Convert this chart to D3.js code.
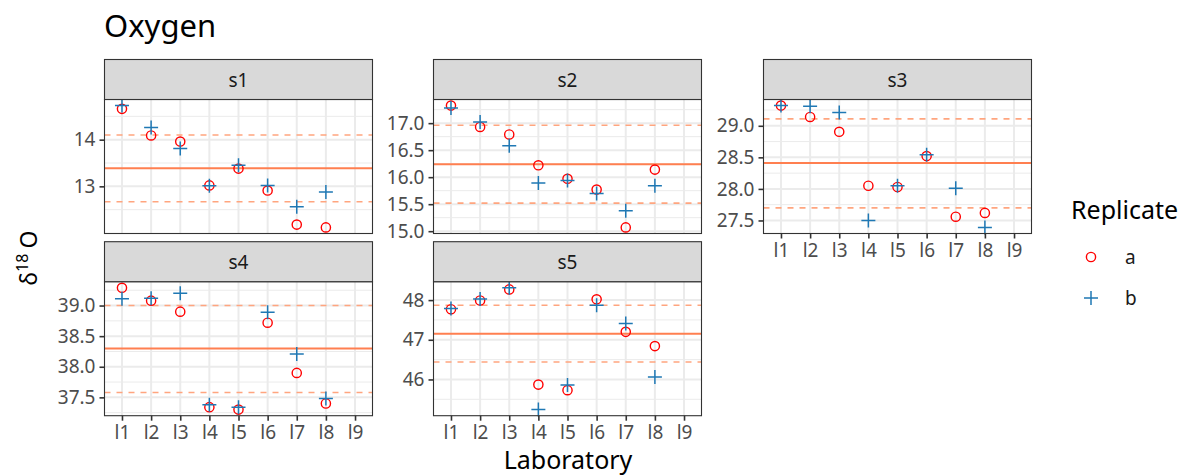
<!DOCTYPE html>
<html>
<head>
<meta charset="utf-8">
<script src="https://cdn.jsdelivr.net/npm/d3@7"></script>
<style>
  body { margin: 0; background: #fff; }
  svg { display: block; font-family: "Noto Sans", "Open Sans", sans-serif; }
</style>
</head>
<body>
<svg id="chart" width="1184" height="476"></svg>
<script>
// ---------------- data ----------------
const labs = ["l1", "l2", "l3", "l4", "l5", "l6", "l7", "l8", "l9"];
const samples = ["s1", "s2", "s3", "s4", "s5"];
const s1_a = [14.66, 14.09, 13.96, 13.02, 13.38, 12.91, 12.18, 12.12];
const s1_b = [14.73, 14.26, 13.81, 13.01, 13.45, 13.02, 12.56, 12.88];
const s2_a = [17.325, 16.93, 16.79, 16.22, 15.97, 15.77, 15.07, 16.14];
const s2_b = [17.28, 17.02, 16.58, 15.89, 15.94, 15.70, 15.38, 15.84];
const s3_a = [29.32, 29.14, 28.905, 28.05, 28.03, 28.52, 27.56, 27.62];
const s3_b = [29.32, 29.31, 29.21, 27.50, 28.05, 28.54, 28.01, 27.39];
const s4_a = [39.29, 39.08, 38.90, 37.34, 37.30, 38.72, 37.90, 37.40];
const s4_b = [39.11, 39.12, 39.20, 37.38, 37.34, 38.89, 38.21, 37.48];
const s5_a = [47.77, 47.99, 48.27, 45.87, 45.73, 48.02, 47.20, 46.84];
const s5_b = [47.79, 48.03, 48.31, 45.24, 45.86, 47.87, 47.41, 46.06];
const centerLine = [13.385, 16.24, 28.41, 38.30, 47.15];
const lowerLine = [12.67, 15.52, 27.70, 37.58, 46.44];
const upperLine = [14.10, 16.96, 29.11, 39.00, 47.87];
const yTicks = [[13, 14], [15, 15.5, 16, 16.5, 17], [27.5, 28, 28.5, 29], [37.5, 38, 38.5, 39], [46, 47, 48]];
const yTickFmt = [d3.format("d"), d3.format(".1f"), d3.format(".1f"), d3.format(".1f"), d3.format("d")];
const replicates = ["a", "b"];

// ---------------- layout ----------------
const svg = d3.select("#chart");
const W = 268, PH = 134, SH = 40;
const colX = [104.5, 433.5, 763.5];
const rowY = [59.5, 241.7];
const panels = [
  {col: 0, row: 0, a: s1_a, b: s1_b, xaxis: false},
  {col: 1, row: 0, a: s2_a, b: s2_b, xaxis: false},
  {col: 2, row: 0, a: s3_a, b: s3_b, xaxis: true},
  {col: 0, row: 1, a: s4_a, b: s4_b, xaxis: true},
  {col: 1, row: 1, a: s5_a, b: s5_b, xaxis: true}
];
const colA = "#FF0000", colB = "#1F78B4", lineCol = "#FF7F50", dashCol = "#FFA57F";
const tickGrey = "#4D4D4D";
const tickFS = 19, stripFS = 19, titleFS = 25;

// title
svg.append("text").attr("x", 104).attr("y", 37).attr("font-size", 31).attr("fill", "#000").text("Oxygen");

panels.forEach((p, i) => {
  const x0 = colX[p.col], sy = rowY[p.row], py = sy + SH;
  const g = svg.append("g");
  const allv = p.a.concat(p.b, [centerLine[i], lowerLine[i], upperLine[i]]);
  const ext = d3.extent(allv);
  const pad = (ext[1] - ext[0]) * 0.05;
  const y = d3.scaleLinear().domain([ext[0] - pad, ext[1] + pad]).range([py + PH, py]);
  const x = d3.scalePoint().domain(labs).range([x0, x0 + W]).padding(0.6);

  // panel background
  g.append("rect").attr("x", x0).attr("y", py).attr("width", W).attr("height", PH).attr("fill", "#fff");

  // minor grid
  const tk = yTicks[i];
  const step = tk[1] - tk[0];
  const ext2 = [tk[0] - step].concat(tk, [tk[tk.length - 1] + step]);
  const minors = [];
  for (let k = 0; k < ext2.length - 1; k++) minors.push((ext2[k] + ext2[k + 1]) / 2);
  const dom = y.domain();
  g.selectAll(".minor").data(minors.filter(v => v > dom[0] && v < dom[1])).join("line")
    .attr("x1", x0).attr("x2", x0 + W).attr("y1", d => y(d)).attr("y2", d => y(d))
    .attr("stroke", "#EBEBEB").attr("stroke-width", 1);
  // major grid
  g.selectAll(".majy").data(tk).join("line")
    .attr("x1", x0).attr("x2", x0 + W).attr("y1", d => y(d)).attr("y2", d => y(d))
    .attr("stroke", "#EBEBEB").attr("stroke-width", 2);
  g.selectAll(".majx").data(labs).join("line")
    .attr("x1", d => x(d)).attr("x2", d => x(d)).attr("y1", py).attr("y2", py + PH)
    .attr("stroke", "#EBEBEB").attr("stroke-width", 2);

  // reference lines
  [lowerLine[i], upperLine[i]].forEach(v => {
    g.append("line").attr("x1", x0).attr("x2", x0 + W).attr("y1", y(v)).attr("y2", y(v))
      .attr("stroke", dashCol).attr("stroke-width", 1.6).attr("stroke-dasharray", "6,6");
  });
  g.append("line").attr("x1", x0).attr("x2", x0 + W).attr("y1", y(centerLine[i])).attr("y2", y(centerLine[i]))
    .attr("stroke", lineCol).attr("stroke-width", 2);

  // points
  const ptsA = p.a.map((v, k) => ({lab: labs[k], v}));
  const ptsB = p.b.map((v, k) => ({lab: labs[k], v}));
  g.selectAll(".pa").data(ptsA).join("circle")
    .attr("cx", d => x(d.lab)).attr("cy", d => y(d.v)).attr("r", 4.6)
    .attr("fill", "none").attr("stroke", colA).attr("stroke-width", 1.4);
  g.selectAll(".pb").data(ptsB).join("path")
    .attr("d", d => { const cx = x(d.lab), cy = y(d.v), s = 7; return `M${cx - s},${cy}H${cx + s}M${cx},${cy - s}V${cy + s}`; })
    .attr("stroke", colB).attr("stroke-width", 1.5).attr("fill", "none");

  // panel border
  g.append("rect").attr("x", x0).attr("y", py).attr("width", W).attr("height", PH)
    .attr("fill", "none").attr("stroke", "#333333").attr("stroke-width", 1.1);

  // strip
  g.append("rect").attr("x", x0).attr("y", sy).attr("width", W).attr("height", SH)
    .attr("fill", "#D9D9D9").attr("stroke", "#333333").attr("stroke-width", 1.1);
  g.append("text").attr("x", x0 + W / 2).attr("y", sy + SH / 2 + 7).attr("text-anchor", "middle")
    .attr("font-size", stripFS).attr("fill", "#1A1A1A").text(samples[i]);

  // y axis
  const ya = d3.axisLeft(y).tickValues(tk).tickFormat(yTickFmt[i]).tickSize(5).tickPadding(4);
  const yg = g.append("g").attr("transform", `translate(${x0},0)`).call(ya);
  yg.select(".domain").remove();
  yg.selectAll(".tick line").attr("stroke", "#333333").attr("stroke-width", 1.6);
  yg.selectAll(".tick text").attr("font-size", tickFS).attr("fill", tickGrey).attr("font-family", "Noto Sans, Open Sans, sans-serif");

  // x axis
  if (p.xaxis) {
    const xa = d3.axisBottom(x).tickSize(5).tickPadding(5);
    const xg = g.append("g").attr("transform", `translate(0,${py + PH})`).call(xa);
    xg.select(".domain").remove();
    xg.selectAll(".tick line").attr("stroke", "#333333").attr("stroke-width", 1.6);
    xg.selectAll(".tick text").attr("font-size", tickFS).attr("fill", tickGrey).attr("font-family", "Noto Sans, Open Sans, sans-serif");
  }
});

// axis titles
svg.append("text").attr("x", 568).attr("y", 469).attr("text-anchor", "middle")
  .attr("font-size", titleFS).attr("fill", "#000").text("Laboratory");
const yl = svg.append("text").attr("transform", "translate(37,258) rotate(-90)").attr("text-anchor", "middle")
  .attr("font-size", 23).attr("fill", "#000");
yl.append("tspan").text("δ");
yl.append("tspan").attr("font-size", 16).attr("dy", -9).text("18");
yl.append("tspan").attr("dy", 9).attr("dx", 5).text("O");

// legend
const lg = svg.append("g");
lg.append("text").attr("x", 1071).attr("y", 219).attr("font-size", titleFS).attr("fill", "#000").text("Replicate");
const legY = [257, 298];
replicates.forEach((r, k) => {
  if (k === 0) {
    lg.append("circle").attr("cx", 1091).attr("cy", legY[k]).attr("r", 4.6)
      .attr("fill", "none").attr("stroke", colA).attr("stroke-width", 1.4);
  } else {
    lg.append("path").attr("d", `M${1084},${legY[k]}H${1098}M${1091},${legY[k] - 7}V${legY[k] + 7}`)
      .attr("stroke", colB).attr("stroke-width", 1.5);
  }
  lg.append("text").attr("x", 1125).attr("y", legY[k] + 7).attr("font-size", tickFS).attr("fill", "#1A1A1A").text(r);
});
</script>
</body>
</html>
